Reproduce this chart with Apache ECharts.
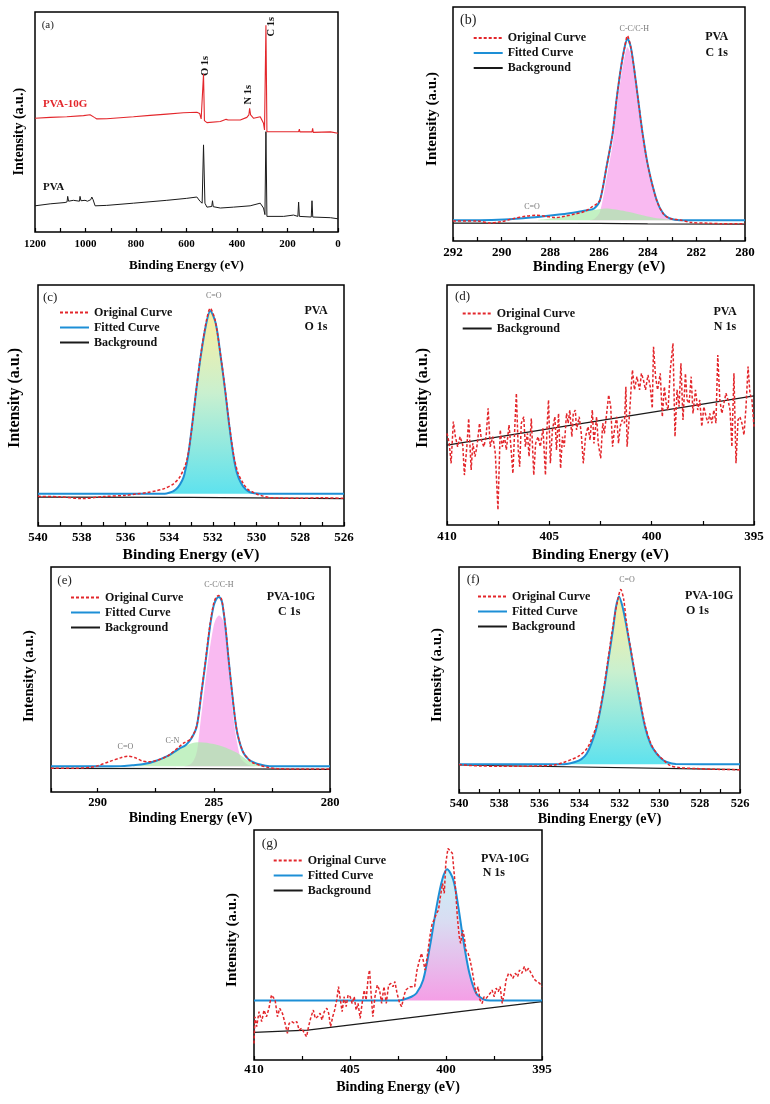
<!DOCTYPE html>
<html><head><meta charset="utf-8">
<script src="https://cdn.jsdelivr.net/npm/echarts@6/dist/echarts.min.js"></script>
<style>html,body{margin:0;padding:0;background:#fff}#c{width:770px;height:1104px}</style>
</head><body><div id="c"></div><script>
// ---------- DATA (x = binding energy eV, y = intensity a.u. normalised 0-100) ----------
const surveyPVA10G = [[1200,51.7],[1140,52.1],[1074,52.4],[1008,52.9],[982,53.3],[975,53.9],[965,52.1],[955,51.4],[916,51.5],[810,52.4],[744,53.0],[678,53.6],[612,54.2],[559,54.4],[548,53.9],[542,51.4],[535,50.6],[532.6,71.8],[529,50.6],[519,49.7],[466,50.2],[443,51.2],[439,52.1],[435,50.9],[387,50.9],[361,52.1],[353,53.2],[350,56.2],[346,53.2],[334,51.7],[308,52.4],[301,53.2],[295,49.4],[291,46.4],[285.4,94.0],[281.5,45.6],[215,45.6],[156,45.6],[153,46.8],[151,45.5],[103,45.5],[100.4,47.1],[98,45.3],[30,45.5],[28,46.2],[25,45.3],[0,44.9]];
const surveyPVA = [[1200,11.9],[1140,12.8],[1081,13.4],[1073,13.7],[1070.5,16.2],[1067,14.0],[1048,14.4],[1045,15.0],[1041,13.9],[1024,14.0],[1021.6,16.2],[1018,14.2],[1002,14.4],[998,15.0],[992,14.0],[979,14.7],[975,15.9],[970,14.7],[962,11.9],[916,12.1],[810,13.1],[678,14.4],[599,15.3],[559,15.9],[546,13.9],[538,13.1],[532.6,39.6],[527,13.1],[519,11.3],[500,11.6],[497,14.2],[494,11.5],[466,10.9],[414,11.3],[348,11.9],[308,13.1],[301,13.9],[295,10.9],[289.4,7.9],[285.4,45.6],[281.5,7.1],[215,7.1],[176,7.7],[159,7.1],[156,13.6],[153,7.1],[106,6.8],[103,14.2],[100,6.8],[30,6.5],[0,6.0]];

const c1sPVA_orig = [[292,8.6],[291,8.6],[290.5,7.7],[290,8.3],[289.5,9.6],[289,10.6],[288.6,11],[288.2,10.6],[287.8,10],[287.4,10.6],[287,11.5],[286.6,12.6],[286.3,14.5],[286.1,15.8],[285.96,17.4],[285.69,31.7],[285.44,46],[285.28,60.3],[285.09,74.6],[284.94,83.1],[284.83,87.7],[284.7,83.1],[284.57,74.6],[284.39,60.3],[284.21,46],[283.98,31.7],[283.63,17.4],[283.36,11.7],[283.08,9.6],[282.67,9],[282.2,7.9],[281.5,7.6],[281,7.4],[280,7.4]];
const c1sPVA_fit = [[292,8.86],[290.9,8.86],[289.9,9.14],[288.8,10],[287.9,11],[287.06,12.1],[286.5,13.1],[286.2,13.9],[285.96,17.4],[285.69,31.7],[285.44,46],[285.28,60.3],[285.09,74.6],[284.94,83.1],[284.83,86.4],[284.7,83.1],[284.57,74.6],[284.39,60.3],[284.21,46],[283.98,31.7],[283.63,17.4],[283.36,11.7],[283.08,9.6],[282.67,8.86],[280,8.86]];
const c1sPVA_CC = [[286.4,8.86],[286.2,9.4],[285.96,12.5],[285.69,27],[285.44,41.5],[285.28,56],[285.09,70.5],[284.94,79.2],[284.83,82.8],[284.7,79.8],[284.57,71.5],[284.39,57.5],[284.21,43.5],[283.98,29.8],[283.63,16.2],[283.36,11],[283.08,9.2],[282.67,8.86]];
const c1sPVA_CO = [[288.5,9.0],[288,9.6],[287.5,10.5],[287,11.6],[286.5,12.8],[286,13.6],[285.7,13.86],[285.4,13.6],[285,12.9],[284.5,11.7],[284,10.5],[283.5,9.6],[283,9.1],[282.5,8.86]];
const c1sPVA_bg = [[292,7.6],[286,7.5],[284,7.3],[280,7.2]];

const o1sPVA_orig = [[540,12.3],[539,12.1],[538,11.4],[537,12.2],[536,12.7],[535.5,13.3],[535,13.9],[534.6,14.6],[534.2,15.6],[533.8,17.5],[533.5,20.5],[533.2,27],[533.0,38],[532.76,56.4],[532.56,70.5],[532.3,85],[532.12,90.3],[531.9,85.5],[531.64,70.5],[531.44,56.8],[531.26,43],[531.05,29.5],[530.85,22],[530.6,17.5],[530.4,15.2],[530.2,14.2],[530,13.3],[529.7,12.4],[529.4,11.8],[529,11.6],[528,11.5],[527,11.7],[526,11.5]];
const o1sPVA_fit = [[540,13.43],[534.2,13.43],[534,13.8],[533.8,14.5],[533.6,16],[533.4,19],[533.3,21.5],[533.14,28.7],[532.94,42.5],[532.76,56.4],[532.56,70.2],[532.3,84.1],[532.12,89.2],[531.87,84.1],[531.64,70.2],[531.44,56.4],[531.26,42.5],[531.05,28.7],[530.9,22],[530.7,17.6],[530.5,15.2],[530.3,14],[530.1,13.6],[529.8,13.43],[526,13.43]];
const o1sPVA_bg = [[540,12.0],[533,11.9],[526,11.4]];

const n1sPVA_orig = [[410,38.2],[409.89,34.0],[409.8,25.7],[409.69,43.1],[409.59,36.8],[409.48,32.6],[409.36,36.8],[409.23,33.3],[409.15,20.8],[409.03,32.6],[408.94,44.4],[408.82,22.9],[408.74,34.0],[408.63,28.5],[408.54,32.6],[408.41,42.4],[408.32,35.4],[408.2,32.6],[408.09,36.8],[407.99,48.6],[407.89,32.6],[407.76,36.8],[407.64,29.9],[407.51,6.3],[407.4,39.6],[407.3,32.6],[407.19,36.8],[407.1,31.3],[406.97,41.7],[406.89,34.0],[406.78,21.5],[406.68,42.4],[406.61,54.9],[406.52,31.3],[406.45,24.3],[406.37,42.4],[406.25,45.1],[406.17,32.6],[406.07,38.2],[405.99,28.5],[405.88,44.4],[405.76,20.8],[405.67,34.0],[405.55,36.8],[405.44,32.6],[405.31,40.3],[405.19,20.8],[405.11,41.0],[405.04,52.1],[404.95,25.7],[404.85,39.6],[404.73,45.1],[404.65,31.3],[404.55,46.5],[404.45,23.6],[404.36,36.8],[404.27,32.6],[404.16,46.5],[404.08,42.4],[404.0,47.9],[403.9,36.8],[403.83,46.5],[403.73,47.9],[403.67,39.6],[403.54,45.1],[403.44,38.2],[403.34,25.7],[403.23,36.8],[403.11,41.0],[403.01,35.4],[402.9,47.9],[402.82,34.0],[402.69,45.1],[402.61,34.0],[402.49,27.8],[402.39,42.4],[402.31,38.2],[402.2,46.5],[402.1,54.2],[402.0,49.3],[401.91,32.6],[401.82,39.6],[401.71,45.1],[401.62,34.0],[401.54,41.0],[401.44,43.8],[401.33,42.4],[401.26,57.6],[401.2,32.6],[401.08,46.5],[401.0,57.6],[400.94,64.6],[400.84,56.3],[400.72,61.8],[400.59,56.3],[400.5,63.2],[400.4,60.4],[400.3,56.3],[400.18,62.5],[400.07,57.6],[399.97,48.6],[399.91,74.3],[399.81,61.8],[399.71,56.3],[399.58,63.2],[399.48,45.1],[399.38,57.6],[399.29,50.7],[399.2,47.9],[399.09,64.6],[398.96,75.7],[398.86,36.8],[398.76,56.3],[398.66,49.3],[398.57,67.4],[398.47,43.8],[398.35,63.2],[398.27,52.1],[398.17,50.7],[398.07,61.8],[397.98,46.5],[397.86,56.3],[397.75,47.9],[397.65,52.1],[397.55,41.0],[397.45,49.3],[397.34,45.1],[397.24,42.4],[397.16,46.5],[397.06,42.4],[396.96,47.9],[396.86,42.4],[396.77,70.8],[396.67,52.1],[396.57,46.5],[396.47,50.7],[396.37,54.9],[396.27,52.1],[396.17,47.9],[396.08,32.6],[395.98,63.2],[395.88,25.7],[395.78,43.8],[395.69,45.1],[395.59,42.4],[395.49,37.5],[395.39,49.3],[395.29,66.0],[395.2,54.9],[395.1,52.1],[395.0,41.0]];
const n1sPVA_bg = [[410,33.3],[395,53.8]];

const c1s10G_orig = [[292,10.6],[291,10.5],[290.3,11],[290,11.6],[289.5,13.5],[289,15.2],[288.7,15.9],[288.4,15.3],[288.1,13.9],[287.8,13.4],[287.5,13.9],[287,15.9],[286.5,20],[286.3,21.7],[286,23.5],[285.73,29.5],[285.53,44.5],[285.34,59.5],[285.16,74.5],[285.01,83.5],[284.9,86.5],[284.78,87.3],[284.66,85.5],[284.5,74],[284.36,59],[284.21,44],[284.04,29.5],[283.9,22.5],[283.72,17.5],[283.5,14.5],[283.3,12.9],[283,11.8],[282.7,11],[282.3,10.4],[281,10.2],[280,10.2]];
const c1s10G_fit = [[292,11.4],[290,11.4],[289,11.5],[288.5,11.9],[288,12.4],[287.5,13.8],[287,15.9],[286.5,19.2],[286.2,20.9],[285.95,24],[285.73,29.2],[285.53,44],[285.34,58.8],[285.16,73.6],[285.01,82.5],[284.9,85.6],[284.78,86.7],[284.66,85],[284.61,82.5],[284.5,73.6],[284.36,58.8],[284.21,44],[284.04,29.2],[283.9,22.5],[283.72,17.3],[283.5,14.5],[283.3,13.3],[283,12.2],[282.6,11.5],[280,11.4]];
const c1s10G_CC = [[286.3,11.4],[286,12.3],[285.8,15.5],[285.7,19.5],[285.59,29.2],[285.42,44],[285.24,58.8],[285.01,73.6],[284.9,77],[284.77,78.4],[284.65,77.2],[284.51,73.6],[284.38,58.8],[284.26,44],[284.11,29.2],[283.95,19.5],[283.8,14.4],[283.5,12],[283.2,11.5],[283,11.4]];
const c1s10G_CN = [[288.6,11.4],[288.3,11.7],[288,12.3],[287.5,13.8],[287,15.9],[286.5,19.2],[286,21.5],[285.6,22.1],[285,21.3],[284.5,19.8],[284,17.4],[283.6,14.5],[283.3,13],[283,12.1],[282.6,11.5],[282.3,11.4]];
const c1s10G_bg = [[292,10.5],[286,10.4],[284,10.3],[280,10.1]];

const o1s10G_orig = [[540,12.6],[539.5,12.2],[539,12],[538,11.8],[537,11.8],[536,12],[535.3,12.3],[534.8,13.5],[534.4,14.8],[534,16.5],[533.6,20],[533.3,26],[533.1,31.5],[532.81,45],[532.56,60],[532.31,75],[532.1,85],[531.94,90],[531.8,86],[531.65,75],[531.36,59.5],[531.06,45],[530.73,30],[530.45,22],[530.15,17.5],[529.8,14.5],[529.49,12.2],[528.99,11.2],[528.16,10.8],[527.3,10.5],[526,10.3]];
const o1s10G_fit = [[540,12.7],[535,12.7],[534.64,12.8],[534.22,13.7],[533.9,15],[533.64,17.4],[533.4,22],[533.14,29.2],[532.81,44],[532.56,58.7],[532.31,73.5],[532.18,82.3],[532.03,87],[531.85,82.3],[531.65,73.5],[531.36,58.7],[531.06,44],[530.73,29.2],[530.45,21.5],[530.15,17.4],[529.9,15],[529.65,13.7],[529.2,12.8],[526,12.7]];
const o1s10G_bg = [[540,12.4],[526,10.3]];

const n1s10G_orig = [[410,7.2],[409.95,18.8],[409.86,14.5],[409.74,21.0],[409.6,16.7],[409.48,21.7],[409.35,18.8],[409.22,22.5],[409.09,28.3],[409.01,29.0],[408.9,26.1],[408.78,18.8],[408.66,22.5],[408.52,20.3],[408.38,15.9],[408.26,11.6],[408.17,15.9],[408.03,16.7],[407.89,15.9],[407.77,16.7],[407.65,13.0],[407.51,13.8],[407.38,11.6],[407.26,10.1],[407.16,14.5],[407.03,18.8],[406.91,21.7],[406.81,18.1],[406.69,18.8],[406.56,20.3],[406.46,17.4],[406.34,21.0],[406.21,22.5],[406.11,20.3],[406.01,14.5],[405.9,18.8],[405.8,21.7],[405.69,26.1],[405.6,31.9],[405.5,26.1],[405.41,21.0],[405.31,27.5],[405.2,23.2],[405.1,28.3],[404.99,27.5],[404.89,24.6],[404.78,27.5],[404.68,21.7],[404.58,24.6],[404.47,18.1],[404.37,24.6],[404.26,30.4],[404.16,26.1],[404.05,36.2],[403.98,39.1],[403.89,27.5],[403.81,18.8],[403.7,27.5],[403.58,32.6],[403.46,30.4],[403.35,24.6],[403.23,31.9],[403.11,24.6],[402.99,32.6],[402.87,33.3],[402.76,31.9],[402.66,34.1],[402.55,29.0],[402.41,24.6],[402.31,23.2],[402.2,27.5],[402.1,30.4],[401.98,31.2],[401.85,31.9],[401.75,32.6],[401.63,31.9],[401.51,39.1],[401.4,42.8],[401.28,46.4],[401.19,43.5],[401.09,39.1],[400.98,44.9],[400.84,53.6],[400.72,59.4],[400.62,60.9],[400.49,63.8],[400.39,65.2],[400.28,71.7],[400.18,76.8],[400.09,72.5],[400.01,85.5],[399.9,92.0],[399.8,92.0],[399.67,89.9],[399.59,82.6],[399.5,73.9],[399.41,62.3],[399.31,53.6],[399.24,50.7],[399.13,56.5],[399.05,53.6],[398.96,47.8],[398.85,46.4],[398.75,43.5],[398.64,39.1],[398.54,39.1],[398.44,29.0],[398.33,31.9],[398.23,26.1],[398.12,24.6],[398.02,27.5],[397.91,26.8],[397.81,26.1],[397.7,29.0],[397.6,30.4],[397.49,27.5],[397.39,31.2],[397.28,29.7],[397.18,31.9],[397.07,24.6],[396.97,29.0],[396.87,34.8],[396.74,37.7],[396.62,37.0],[396.52,35.5],[396.39,37.7],[396.27,36.2],[396.17,39.1],[396.05,37.7],[395.92,40.6],[395.82,38.4],[395.7,39.9],[395.57,37.7],[395.47,36.2],[395.37,34.8],[395.26,34.1],[395.12,33.3],[395.0,31.9]];
const n1s10G_fit = [[410,25.9],[402.5,25.9],[402.24,26.2],[401.8,27.5],[401.54,29],[401.19,34.8],[400.84,49.3],[400.49,66.7],[400.2,78.3],[399.94,82.9],[399.62,78.3],[399.36,66.7],[399.1,52.2],[398.78,37.7],[398.43,29],[398.05,26.4],[397.7,25.9],[395,25.9]];
const n1s10G_bg = [[410,12.0],[407.2,13.0],[395,25.4]];

// peak annotations [x, y, text]
const peakLabelsB = [[284.55,90.7,'C-C/C-H'],[288.75,14.6,'C=O']];
const peakLabelsC = [[531.96,95.4,'C=O']];
const peakLabelsE = [[284.78,91.9,'C-C/C-H'],[286.78,22.8,'C-N'],[288.8,20,'C=O']];
const peakLabelsF = [[531.63,94.1,'C=O']];

// ---------- STYLE / LAYOUT ----------
const SERIF = 'Liberation Serif, Times New Roman, serif';
const RED = '#e3262b', BLUE = '#1d8fd6', BLACK = '#1a1a1a';
const panels = [
  {grid:{left:35,top:12,width:303,height:220}, min:0,max:1200,interval:100,every:200,lf:11,lm:7,nf:13,ng:27},
  {grid:{left:453,top:7,width:292,height:234}, min:280,max:292,interval:1,every:2,lf:13,lm:5,nf:15,ng:19},
  {grid:{left:38,top:285,width:306,height:241}, min:526,max:540,interval:1,every:2,lf:13,lm:5,nf:15.5,ng:21},
  {grid:{left:447,top:285,width:307,height:240}, min:395,max:410,interval:2.5,every:5,lf:13,lm:5,nf:15.5,ng:22},
  {grid:{left:51,top:567,width:279,height:225}, min:280,max:292,interval:2.5,every:5,lf:12.5,lm:4.5,nf:14,ng:19},
  {grid:{left:459,top:567,width:281,height:226}, min:526,max:540,interval:1,every:2,lf:12.5,lm:4.5,nf:14,ng:19},
  {grid:{left:254,top:830,width:288,height:230}, min:395,max:410,interval:2.5,every:5,lf:13,lm:3.5,nf:14,ng:20}
];

const grids = panels.map(p => Object.assign({show:true, borderColor:'#000', borderWidth:1.5, backgroundColor:'transparent'}, p.grid));
const xAxes = panels.map((p,i) => ({
  type:'value', gridIndex:i, inverse:true, min:p.min, max:p.max, interval:p.interval,
  axisLine:{show:false}, splitLine:{show:false},
  axisTick:{show:true, inside:true, length:4, lineStyle:{color:'#000', width:1.2}},
  axisLabel:{fontFamily:SERIF, fontWeight:'bold', fontSize:p.lf, color:'#000', margin:p.lm, showMinLabel:true, showMaxLabel:true,
    formatter: v => (Math.abs(v/p.every - Math.round(v/p.every)) < 1e-6 ? String(v) : '')},
  name:'Binding Energy (eV)', nameLocation:'middle', nameGap:p.ng,
  nameTextStyle:{fontFamily:SERIF, fontWeight:'bold', fontSize:p.nf, color:'#000'}
}));
const yAxes = panels.map((p,i) => ({
  type:'value', gridIndex:i, min:0, max:100, axisLine:{show:false}, axisTick:{show:false},
  axisLabel:{show:false}, splitLine:{show:false}
}));

function line(i, name, data, color, width, extra) {
  return Object.assign({type:'line', name, xAxisIndex:i, yAxisIndex:i, data, symbol:'none', showSymbol:false,
    lineStyle:{color, width}, itemStyle:{color}, silent:true, z:3}, extra || {});
}
const orig = (i, d, smooth) => line(i, 'Original Curve', d, RED, 1.5, {lineStyle:{color:RED, width:1.5, type:[3,2]}, smooth: smooth ? 0.3 : false, z:5});
const fit = (i, d, extra) => line(i, 'Fitted Curve', d, BLUE, 2, Object.assign({smooth:0.3, z:4}, extra || {}));
const bg = (i, d) => line(i, 'Background', d, BLACK, 1.2, {z:3});
const comp = (i, name, d, base, fill) => line(i, name, d, 'rgba(0,0,0,0)', 0,
  {smooth:0.3, z:1, lineStyle:{width:0}, areaStyle:{origin:base, color:fill, opacity:1}});
const labels = (i, arr) => ({type:'scatter', xAxisIndex:i, yAxisIndex:i, symbolSize:0, silent:true, z:6,
  data: arr.map(a => ({value:[a[0], a[1]], label:{formatter:a[2]}})),
  label:{show:true, position:'inside', fontFamily:SERIF, fontSize:8, color:'#555'}});

const yellowCyan = {type:'linear', x:0, y:0, x2:0, y2:1, colorStops:[{offset:0,color:'#fbeea0'},{offset:0.45,color:'#c9f0cf'},{offset:1,color:'#5ee2ee'}]};
const cyanPink = {type:'linear', x:0, y:0, x2:0, y2:1, colorStops:[{offset:0,color:'#c9f1f6'},{offset:0.4,color:'#d9dcf2'},{offset:1,color:'#f49fe6'}]};

const series = [
  line(0, 'PVA', surveyPVA, BLACK, 1, {z:3}),
  line(0, 'PVA-10G', surveyPVA10G, RED, 1.1, {z:4}),
  // (b)
  comp(1, 'C-C/C-H', c1sPVA_CC, 8.86, 'rgba(249,182,240,0.95)'),
  comp(1, 'C=O comp', c1sPVA_CO, 8.86, 'rgba(170,235,170,0.7)'),
  bg(1, c1sPVA_bg), fit(1, c1sPVA_fit), orig(1, c1sPVA_orig, true), labels(1, peakLabelsB),
  // (c)
  bg(2, o1sPVA_bg), fit(2, o1sPVA_fit, {areaStyle:{origin:13.43, color:yellowCyan, opacity:1}}), orig(2, o1sPVA_orig, true), labels(2, peakLabelsC),
  // (d)
  bg(3, n1sPVA_bg), orig(3, n1sPVA_orig, false),
  // (e)
  comp(4, 'C-C/C-H', c1s10G_CC, 11.4, 'rgba(249,182,240,0.95)'),
  comp(4, 'C-N', c1s10G_CN, 11.4, 'rgba(170,235,170,0.7)'),
  bg(4, c1s10G_bg), fit(4, c1s10G_fit), orig(4, c1s10G_orig, true), labels(4, peakLabelsE),
  // (f)
  bg(5, o1s10G_bg), fit(5, o1s10G_fit, {areaStyle:{origin:12.7, color:yellowCyan, opacity:1}}), orig(5, o1s10G_orig, true), labels(5, peakLabelsF),
  // (g)
  bg(6, n1s10G_bg), fit(6, n1s10G_fit, {areaStyle:{origin:25.9, color:cyanPink, opacity:1}}), orig(6, n1s10G_orig, false)
];

const three = ['Original Curve','Fitted Curve','Background'];
const legendPos = [
  {left:472.7, top:31.5, data:three}, {left:59, top:306, data:three}, {left:461.7, top:307, data:['Original Curve','Background']},
  {left:70, top:591, data:three}, {left:477, top:590, data:three}, {left:272.7, top:854, data:three}
];
const legends = legendPos.map(l => ({left:l.left, top:l.top, data:l.data, orient:'vertical', padding:0, itemGap:2,
  itemWidth:29, itemHeight:2, selectedMode:false, itemStyle:{opacity:0, borderWidth:0},
  textStyle:{fontFamily:SERIF, fontWeight:'bold', fontSize:12, color:'#111', lineHeight:13}}));

// ---------- TEXT ----------
const yTitles = [[19,131.7,14],[431.7,119,15],[15,398,16],[423,398,16],[29,676,14.7],[437,675,15],[232,940,15]];
const letters = [['(a)',41.7,25,11],['(b)',460,20.7,14],['(c)',43,298,13],['(d)',455,297,13],['(e)',57.3,580.7,13],['(f)',466.7,579.3,13],['(g)',261.7,843.3,13.5]];
const sampleCentered = [['PVA',716.7,37],['C 1s',716.7,53],['PVA',316,311],['O 1s',316,326.7],['PVA',725,311.7],['N 1s',725,326.7]];
const sampleLeft = [['PVA-10G',266.7,596.7],['C 1s',278,611.7],['PVA-10G',685,596],['O 1s',686,611],['PVA-10G',481,859.3],['N 1s',482.7,873.3]];
const surveyLabels = [['O 1s',205,66],['N 1s',248.3,94.7],['C 1s',271.7,26.7]];

const graphic = [];
yTitles.forEach(t => graphic.push({type:'text', x:t[0], y:t[1], rotation:Math.PI/2, silent:true,
  style:{text:'Intensity (a.u.)', font:`bold ${t[2]}px ${SERIF}`, fill:'#000', textAlign:'center', textVerticalAlign:'middle'}}));
letters.forEach(t => graphic.push({type:'text', x:t[1], y:t[2], silent:true,
  style:{text:t[0], font:`${t[3]}px ${SERIF}`, fill:'#222', textAlign:'left', textVerticalAlign:'middle'}}));
sampleCentered.forEach(t => graphic.push({type:'text', x:t[1], y:t[2], silent:true,
  style:{text:t[0], font:`bold 12px ${SERIF}`, fill:'#111', textAlign:'center', textVerticalAlign:'middle'}}));
sampleLeft.forEach(t => graphic.push({type:'text', x:t[1], y:t[2], silent:true,
  style:{text:t[0], font:`bold 12px ${SERIF}`, fill:'#111', textAlign:'left', textVerticalAlign:'middle'}}));
surveyLabels.forEach(t => graphic.push({type:'text', x:t[1], y:t[2], rotation:Math.PI/2, silent:true,
  style:{text:t[0], font:`bold 10.5px ${SERIF}`, fill:'#111', textAlign:'center', textVerticalAlign:'middle'}}));
graphic.push({type:'text', x:43, y:104, silent:true, style:{text:'PVA-10G', font:`bold 11px ${SERIF}`, fill:RED, textAlign:'left', textVerticalAlign:'middle'}});
graphic.push({type:'text', x:43, y:187, silent:true, style:{text:'PVA', font:`bold 11px ${SERIF}`, fill:'#111', textAlign:'left', textVerticalAlign:'middle'}});

const chart = echarts.init(document.getElementById('c'), null, {renderer:'canvas'});
chart.setOption({animation:false, backgroundColor:'#fff', grid:grids, xAxis:xAxes, yAxis:yAxes, legend:legends, series, graphic});
</script></body></html>
